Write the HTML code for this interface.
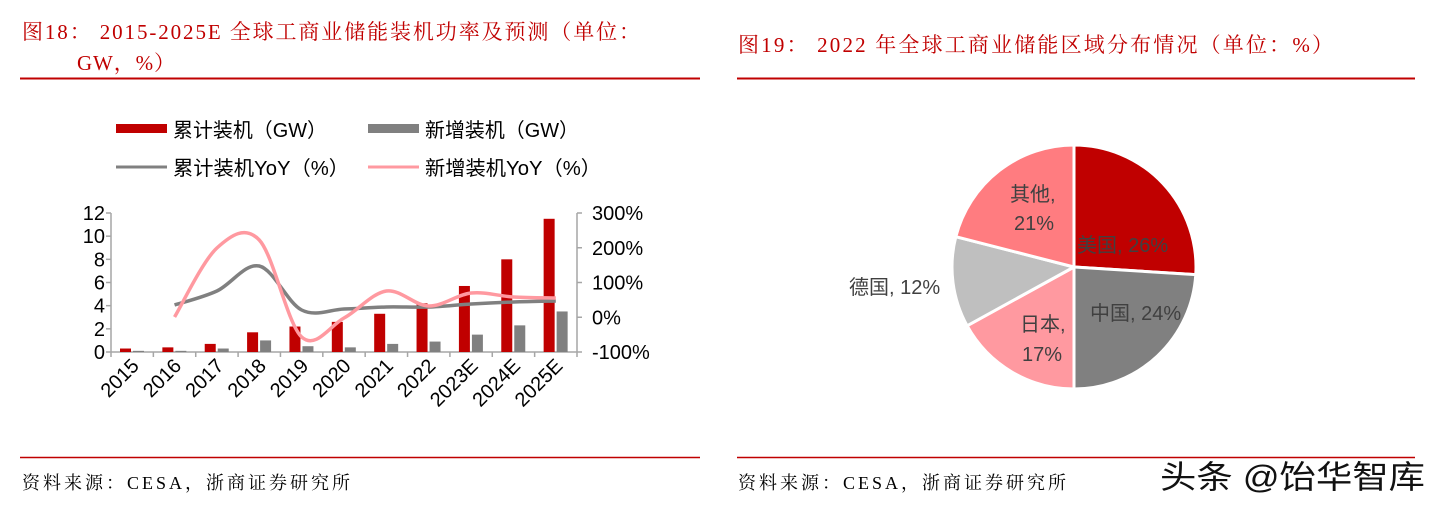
<!DOCTYPE html>
<html><head><meta charset="utf-8"><style>
body{margin:0;width:1441px;height:509px;background:#fff;overflow:hidden}
svg{display:block}
</style></head><body>
<svg width="1441" height="509" xmlns="http://www.w3.org/2000/svg">
<g font-family="'Liberation Serif','Noto Serif CJK SC',serif" fill="#C00000" font-size="21">
<text x="22" y="39" textLength="618" lengthAdjust="spacing">图18：  2015-2025E 全球工商业储能装机功率及预测（单位：</text>
<text x="77" y="70" textLength="98" lengthAdjust="spacing">GW，%）</text>
<text x="738" y="52" textLength="595" lengthAdjust="spacing">图19：  2022 年全球工商业储能区域分布情况（单位：%）</text>
</g>
<line x1="20" y1="78.5" x2="700" y2="78.5" stroke="#C00000" stroke-width="2"/>
<line x1="737" y1="78.5" x2="1415" y2="78.5" stroke="#C00000" stroke-width="2"/>
<line x1="20" y1="457.5" x2="700" y2="457.5" stroke="#C00000" stroke-width="1.5"/>
<line x1="737" y1="457.5" x2="1415" y2="457.5" stroke="#C00000" stroke-width="1.5"/>
<g font-family="'Liberation Serif','Noto Serif CJK SC',serif" fill="#000" font-size="18">
<text x="22" y="489" textLength="328" lengthAdjust="spacing">资料来源：CESA，浙商证券研究所</text>
<text x="738" y="489" textLength="328" lengthAdjust="spacing">资料来源：CESA，浙商证券研究所</text>
</g>
<text x="1160" y="488" font-family="'Liberation Sans','Noto Sans CJK SC',sans-serif" font-size="32" fill="#111" textLength="265" lengthAdjust="spacingAndGlyphs">头条 @饴华智库</text>

<!-- legend -->
<g font-family="'Liberation Sans','Noto Sans CJK SC',sans-serif" font-size="20" fill="#000">
<rect x="116" y="124" width="51" height="9" fill="#C00000"/>
<text x="173" y="137" textLength="154" lengthAdjust="spacingAndGlyphs">累计装机（GW）</text>
<rect x="368" y="124" width="51" height="9" fill="#808080"/>
<text x="425" y="137" textLength="154" lengthAdjust="spacingAndGlyphs">新增装机（GW）</text>
<line x1="116" y1="167" x2="167" y2="167" stroke="#808080" stroke-width="3"/>
<text x="173" y="175" textLength="176" lengthAdjust="spacingAndGlyphs">累计装机YoY（%）</text>
<line x1="368" y1="167" x2="419" y2="167" stroke="#FF99A0" stroke-width="3"/>
<text x="425" y="175" textLength="176" lengthAdjust="spacingAndGlyphs">新增装机YoY（%）</text>
</g>

<!-- axes -->
<g stroke="#A6A6A6" stroke-width="1.5">
<line x1="111" y1="213" x2="111" y2="352"/>
<line x1="577" y1="213" x2="577" y2="352"/>
<line x1="111" y1="352" x2="577" y2="352"/>
</g>
<g id="ticks" stroke="#A6A6A6" stroke-width="1.5"></g>
<g id="bars"></g>
<g font-family="'Liberation Sans',sans-serif" font-size="20" fill="#000" text-anchor="end" id="ylab"></g>
<g font-family="'Liberation Sans',sans-serif" font-size="20" fill="#000" id="ylab2"></g>
<g font-family="'Liberation Sans',sans-serif" font-size="20" fill="#000" text-anchor="end" id="xlab"></g>
<path id="gl" fill="none" stroke="#808080" stroke-width="3.5"/>
<path id="pl" fill="none" stroke="#FF99A0" stroke-width="3.5"/>

<!-- pie -->
<g id="pie" stroke="#fff" stroke-width="3"></g>
<g font-family="'Liberation Sans','Noto Sans CJK SC',sans-serif" font-size="20" fill="#404040">
<text x="1010" y="201">其他,</text>
<text x="1014" y="230">21%</text>
<text x="1077" y="252">美国, 26%</text>
<text x="849" y="294">德国, 12%</text>
<text x="1090" y="320">中国, 24%</text>
<text x="1020" y="331">日本,</text>
<text x="1022" y="361">17%</text>
</g>
</svg>
<script>
var NS="http://www.w3.org/2000/svg";
function el(p,t,a,txt){var e=document.createElementNS(NS,t);for(var k in a)e.setAttribute(k,a[k]);if(txt)e.textContent=txt;document.getElementById(p).appendChild(e);}
var L=111,R=577,T=213,B=352,W=(R-L)/11;
var cum=[0.3,0.4,0.7,1.7,2.2,2.6,3.3,4.2,5.7,8.0,11.5],nw=[0.1,0.1,0.3,1.0,0.5,0.4,0.7,0.9,1.5,2.3,3.5];
var yrs=["2015","2016","2017","2018","2019","2020","2021","2022","2023E","2024E","2025E"];
function yl(v){return B-v/12*(B-T);}
for(var i=0;i<=11;i++)el("ticks","line",{x1:L+i*W,y1:B,x2:L+i*W,y2:B+5});
for(var v=0;v<=12;v+=2){var y=yl(v);el("ticks","line",{x1:L-5,y1:y,x2:L,y2:y});el("ylab","text",{x:L-6,y:y+7},""+v);}
var pct=["-100%","0%","100%","200%","300%"];
for(var j=0;j<5;j++){var y=B-j*(B-T)/4;el("ticks","line",{x1:R,y1:y,x2:R+5,y2:y});el("ylab2","text",{x:R+15,y:y+7},pct[j]);}
for(var i=0;i<11;i++){var x0=L+i*W;
el("bars","rect",{x:x0+9,y:yl(cum[i]),width:11,height:B-yl(cum[i]),fill:"#C00000"});
el("bars","rect",{x:x0+22,y:yl(nw[i]),width:11,height:B-yl(nw[i]),fill:"#808080"});
var cx=x0+W/2+8,cy=B+15;el("xlab","text",{x:cx,y:cy,transform:"rotate(-45 "+cx+" "+cy+")"},yrs[i]);}
function smooth(pts){var d="M"+pts[0][0]+","+pts[0][1];for(var i=0;i<pts.length-1;i++){var p0=pts[i-1]||pts[i],p1=pts[i],p2=pts[i+1],p3=pts[i+2]||p2;
d+=" C"+(p1[0]+(p2[0]-p0[0])/6)+","+(p1[1]+(p2[1]-p0[1])/6)+" "+(p2[0]-(p3[0]-p1[0])/6)+","+(p2[1]-(p3[1]-p1[1])/6)+" "+p2[0]+","+p2[1];}return d;}
var gy=[305,291,266,310,309,307,307,304,302,301],py=[317,248,240,337,318,291,306,293,297,298];
var gp=[],pp=[];for(var i=0;i<10;i++){var x=L+W*(i+1.5);gp.push([x,gy[i]]);pp.push([x,py[i]]);}
document.getElementById("gl").setAttribute("d",smooth(gp));document.getElementById("pl").setAttribute("d",smooth(pp));
var cxp=1074,cyp=267,r=122,sl=[[26,"#C00000"],[24,"#808080"],[17,"#FF99A0"],[12,"#BFBFBF"],[21,"#FF7C80"]],a=0;
sl.forEach(function(s){var a1=a+s[0]/100*2*Math.PI;
var x1=cxp+r*Math.sin(a),y1=cyp-r*Math.cos(a),x2=cxp+r*Math.sin(a1),y2=cyp-r*Math.cos(a1);
el("pie","path",{d:"M"+cxp+","+cyp+" L"+x1+","+y1+" A"+r+","+r+" 0 "+(a1-a>Math.PI?1:0)+",1 "+x2+","+y2+" Z",fill:s[1]});a=a1;});
</script>
</body></html>
